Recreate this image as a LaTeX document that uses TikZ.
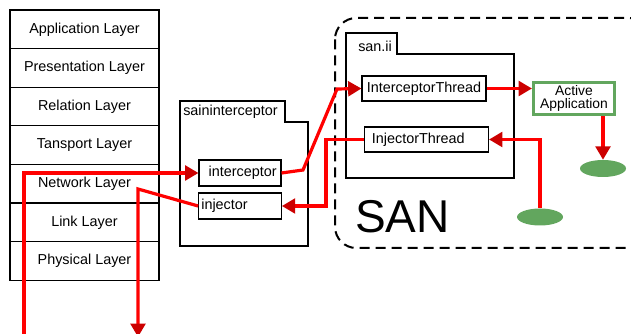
\documentclass[tikz,border=0pt]{standalone}
\usepackage{fontspec}
\setmainfont{Liberation Sans}
\usetikzlibrary{arrows.meta,shapes.geometric}

\definecolor{flowred}{RGB}{255,0,0}
\definecolor{tipred}{RGB}{204,0,0}
\definecolor{appgreen}{RGB}{98,166,94}

\tikzset{
  box/.style={draw, line width=0.8pt, inner sep=0pt, font=\fontsize{10.8}{13}\selectfont},
  layerbox/.style={box, minimum width=111.75pt, minimum height=28.95pt},
  pkg/.style={draw, line width=0.8pt},
  pkglabel/.style={anchor=west, inner sep=0pt, font=\fontsize{10.8}{13}\selectfont},
  appbox/.style={draw=appgreen, line width=2.3pt, minimum width=60.75pt, minimum height=24pt,
    inner sep=0pt, align=center, font=\fontsize{10.4}{9.4}\selectfont},
  blob/.style={ellipse, fill=appgreen, minimum width=34.5pt, minimum height=12.75pt, inner sep=0pt},
  flow/.style={draw=flowred, line width=2.4pt, -{Triangle[length=10pt,width=11pt,color=tipred]}},
}

\begin{document}
\begin{tikzpicture}[x=0.75pt, y=-0.75pt]
    \useasboundingbox (0,0) rectangle (631,334);

    % protocol stack
    \foreach \name [count=\i] in {Application Layer, Presentation Layer, Relation Layer,
        Tansport Layer, Network Layer, Link Layer, Physical Layer}
        \node[layerbox] (l\i) at (84.5, {29.3+38.6*(\i-1)}) {\name};

    % saininterceptor package
    \draw[pkg] (180,246) -- (180,101) -- (285,101) -- (285,122) -- (308,122) -- (308,246) -- cycle;
    \node[pkglabel] (sainlabel) at (183,112) {saininterceptor};
    \node[box, minimum width=61.5pt, minimum height=19.5pt] (interceptor) at (240,173) {\hspace{4pt}interceptor};
    \node[box, text width=58pt, inner xsep=2pt, minimum height=19.5pt] (injector) at (240,206) {injector};

    % SAN node
    \draw[dashed, dash pattern=on 7.5pt off 4.5pt, line width=1.5pt, rounded corners=16pt]
        (335,18) rectangle (650,248);
    \node[anchor=base west, inner sep=0pt, font=\fontsize{34.5}{40}\selectfont] (santext) at (355,233) {SAN};

    \draw[pkg] (346,178) -- (346,33) -- (397,33) -- (397,54) -- (514,54) -- (514,178) -- cycle;
    \node[pkglabel] (sanlabel) at (358,46) {san.ii};
    \node[box, minimum width=93pt, minimum height=18.75pt] (ithread) at (424,88.5) {InterceptorThread};
    \node[box, text width=82pt, inner xsep=5.5pt, minimum height=18.75pt] (jthread) at (426.5,139.5) {InjectorThread};

    \node[appbox] (active) at (574,98.5) {Active\\Application};
    \node[blob] (sink) at (603,168.5) {};
    \node[blob] (source) at (540,217) {};

    % packet flow
    \coordinate (upstart) at (24,340);
    \coordinate (fork) at (138,189);
    \coordinate (downend) at (138,337);
    \coordinate (kink) at (303,170);
    \coordinate (rise) at (337,89);

    \draw[flow] (upstart) |- (interceptor.west);
    \draw[flow] (injector.west) -- (fork) -- (downend);
    \draw[flow] (interceptor.east) -- (kink) -- (rise) -- (ithread.west);
    \draw[flow] (jthread.west) -- ++(-38,0) |- (injector.east);
    \draw[flow] (ithread.east) -- (ithread.east -| active.west);
    \draw[flow] (active.south -| sink.north) -- (sink.north);
    \draw[flow] (source.north) |- (jthread.east);
\end{tikzpicture}
\end{document}
